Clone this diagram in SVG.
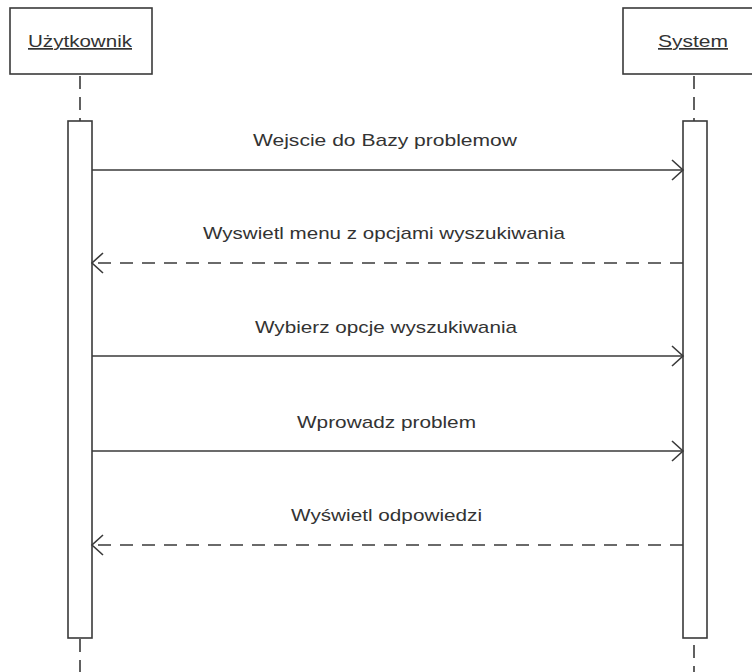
<svg xmlns="http://www.w3.org/2000/svg" width="752" height="672" viewBox="0 0 752 672">
<style>
.box{fill:#fff;stroke:#3a3a3a;stroke-width:1.6}
.act{fill:#fff;stroke:#3a3a3a;stroke-width:1.6}
.life{stroke:#3a3a3a;stroke-width:1.6;stroke-dasharray:13 8;fill:none}
.msg{stroke:#3a3a3a;stroke-width:1.6;fill:none}
.ret{stroke:#3a3a3a;stroke-width:1.6;fill:none;stroke-dasharray:13 9}
.head{stroke:#3a3a3a;stroke-width:1.6;fill:none}
text{font-family:"Liberation Sans",Arial,sans-serif;font-size:17px;fill:#333}
.lbl{text-decoration:underline}
</style>
<rect width="752" height="672" fill="#fff"/>
<g id="lifelines">
<line class="life" x1="80" y1="76" x2="80" y2="121"/>
<line class="life" x1="80" y1="639" x2="80" y2="672"/>
<line class="life" x1="694" y1="76" x2="694" y2="121"/>
<line class="life" x1="694" y1="645" x2="694" y2="672"/>
</g>
<g id="uzytkownik">
<rect class="box" x="10" y="8" width="142" height="66"/>
<text class="lbl" x="28" y="47" textLength="104" lengthAdjust="spacingAndGlyphs">Użytkownik</text>
<rect class="act" x="68" y="121" width="24" height="517"/>
</g>
<g id="system">
<rect class="box" x="623" y="8" width="142" height="66"/>
<text class="lbl" x="658" y="47" textLength="70" lengthAdjust="spacingAndGlyphs">System</text>
<rect class="act" x="683" y="121" width="24" height="517"/>
</g>
<g id="connectors">
<line class="msg" x1="92" y1="170" x2="683" y2="170"/>
<path class="head" d="M672,160 L683,170 L672,180"/>
<text x="253" y="146" textLength="264" lengthAdjust="spacingAndGlyphs">Wejscie do Bazy problemow</text>

<line class="ret" x1="683" y1="263" x2="92" y2="263"/>
<path class="head" d="M103,253 L92,263 L103,273"/>
<text x="203" y="239" textLength="362" lengthAdjust="spacingAndGlyphs">Wyswietl menu z opcjami wyszukiwania</text>

<line class="msg" x1="92" y1="356" x2="683" y2="356"/>
<path class="head" d="M672,346 L683,356 L672,366"/>
<text x="255" y="333" textLength="262" lengthAdjust="spacingAndGlyphs">Wybierz opcje wyszukiwania</text>

<line class="msg" x1="92" y1="451" x2="683" y2="451"/>
<path class="head" d="M672,441 L683,451 L672,461"/>
<text x="297" y="428" textLength="179" lengthAdjust="spacingAndGlyphs">Wprowadz problem</text>

<line class="ret" x1="683" y1="545" x2="92" y2="545"/>
<path class="head" d="M103,535 L92,545 L103,555"/>
<text x="291" y="521" textLength="191" lengthAdjust="spacingAndGlyphs">Wyświetl odpowiedzi</text>
</g>
</svg>
